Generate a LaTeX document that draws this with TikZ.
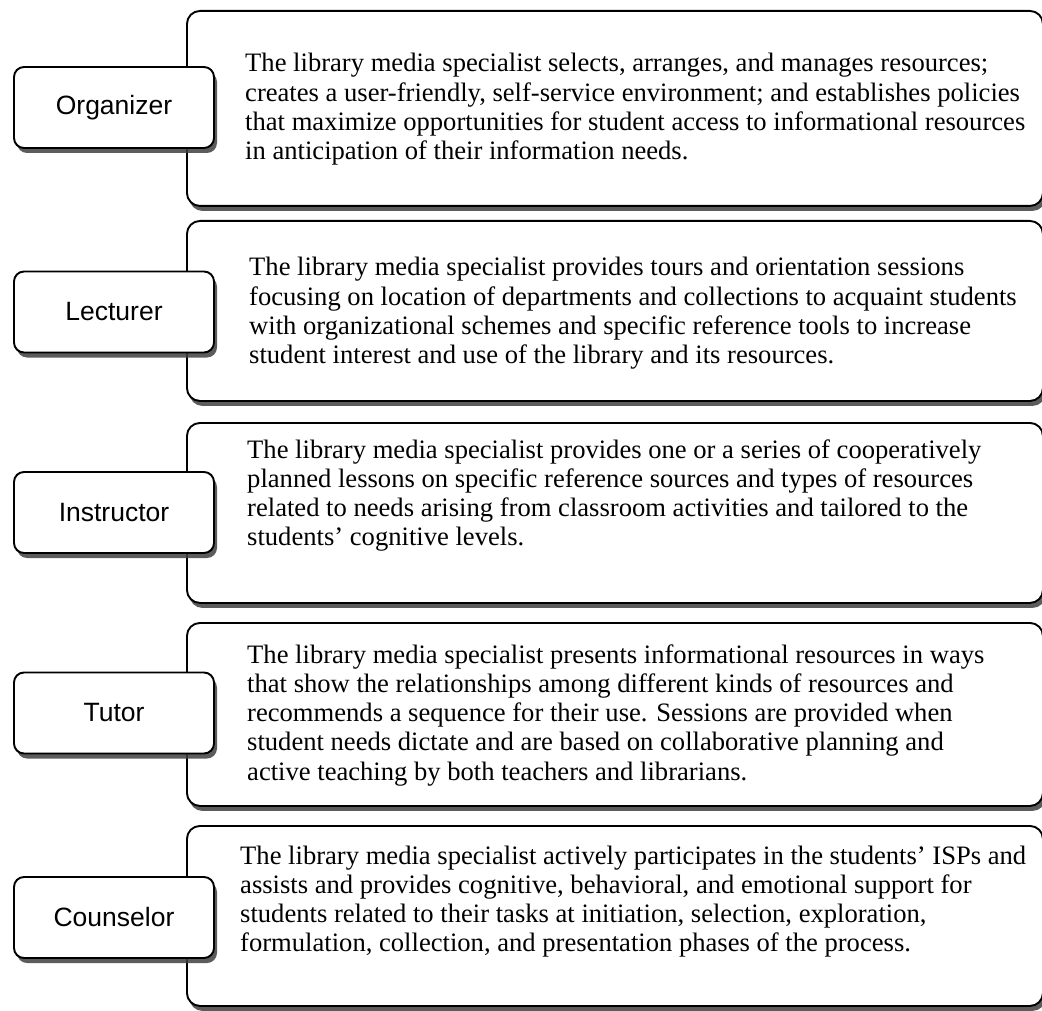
\documentclass[tikz,border=0pt]{standalone}
\usepackage{fontspec}
\setmainfont{Liberation Serif}
\newfontfamily\labelfont{Liberation Sans}
\usetikzlibrary{shadows}
\tikzset{
  bigbox/.style={draw=black, line width=1.9pt, fill=white, rounded corners=13pt,
    anchor=north west, inner sep=0pt, minimum width=856pt,
    drop shadow={shadow xshift=2.5pt, shadow yshift=-5pt, fill=black!75, opacity=0.85}},
  rolebox/.style={draw=black, line width=1.9pt, fill=white, rounded corners=10pt,
    minimum width=200pt, minimum height=81pt, inner sep=0pt,
    font=\labelfont\fontsize{26.5}{30}\selectfont,
    drop shadow={shadow xshift=3pt, shadow yshift=-5pt, fill=black!75, opacity=0.85}},
  desc/.style={anchor=base west, inner sep=0pt, font=\fontsize{26.6}{29.3}\selectfont}
}
\newcommand{\lines}[1]{\vtop{\baselineskip=29.3pt #1}}
\begin{document}
\begin{tikzpicture}[x=1pt,y=-1pt]
\useasboundingbox[fill=white] (0,0) rectangle (1042,1011);
% big boxes
\node[bigbox, minimum height=195pt] (b1) at (186,10) {};
\node[bigbox, minimum height=180pt] (b2) at (186,220) {};
\node[bigbox, minimum height=180pt] (b3) at (186,422) {};
\node[bigbox, minimum height=183pt] (b4) at (186,622) {};
\node[bigbox, minimum height=180pt] (b5) at (186,825) {};
% descriptions
\node[desc] (t1) at (245,72) {\lines{%
\hbox{The library media specialist selects, arranges, and manages resources;}
\hbox{creates a user-friendly, self-service environment; and establishes policies}
\hbox{that maximize opportunities for student access to informational resources}
\hbox{in anticipation of their information needs.}}};
\node[desc] (t2) at (249,276) {\lines{%
\hbox{The library media specialist provides tours and orientation sessions}
\hbox{focusing on location of departments and collections to acquaint students}
\hbox{with organizational schemes and specific reference tools to increase}
\hbox{student interest and use of the library and its resources.}}};
\node[desc] (t3) at (247,458) {\lines{%
\hbox{The library media specialist provides one or a series of cooperatively}
\hbox{planned lessons on specific reference sources and types of resources}
\hbox{related to needs arising from classroom activities and tailored to the}
\hbox{students’ cognitive levels.}}};
\node[desc] (t4) at (247,663) {\lines{%
\hbox{The library media specialist presents informational resources in ways}
\hbox{that show the relationships among different kinds of resources and}
\hbox{recommends a sequence for their use. Sessions are provided when}
\hbox{student needs dictate and are based on collaborative planning and}
\hbox{active teaching by both teachers and librarians.}}};
\node[desc] (t5) at (240,864) {\lines{%
\hbox{The library media specialist actively participates in the students’ ISPs and}
\hbox{assists and provides cognitive, behavioral, and emotional support for}
\hbox{students related to their tasks at initiation, selection, exploration,}
\hbox{formulation, collection, and presentation phases of the process.}}};
% role labels
\node[rolebox] (r1) at (114,107.5) {Organizer};
\node[rolebox] (r2) at (114,312) {Lecturer};
\node[rolebox] (r3) at (114,512.5) {Instructor};
\node[rolebox] (r4) at (114,713) {Tutor};
\node[rolebox] (r5) at (114,917.5) {Counselor};
\end{tikzpicture}
\end{document}
